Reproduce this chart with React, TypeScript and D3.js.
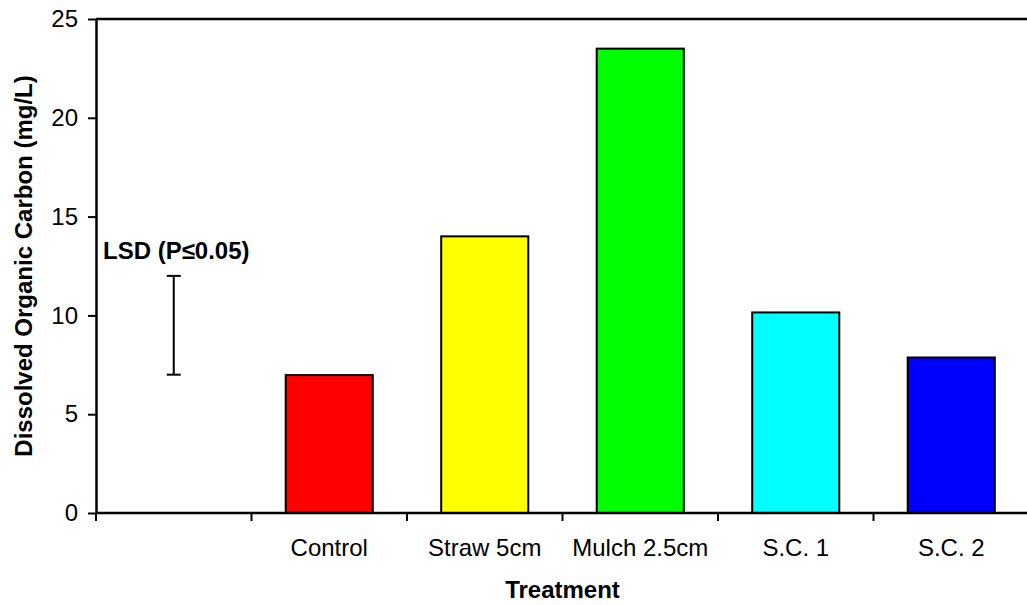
import React, { useEffect, useRef } from 'react';
import * as d3 from 'd3';

// slot 0 holds only the LSD bar
const categories = ['', 'Control', 'Straw 5cm', 'Mulch 2.5cm', 'S.C. 1', 'S.C. 2'];
const treatments = ['Control', 'Straw 5cm', 'Mulch 2.5cm', 'S.C. 1', 'S.C. 2'];
const docValues = [6.98, 14.0, 23.5, 10.15, 7.87];
const barColors = ['#ff0000', '#ffff00', '#00ff00', '#00ffff', '#0000ff'];
const yTicks = [0, 5, 10, 15, 20, 25];
const lsdRange = [7.0, 12.0];
const lsdLabel = 'LSD (P≤0.05)';

const FONT = '"Liberation Sans", Arial, sans-serif';

const App = () => {
  const chartRef = useRef<SVGSVGElement | null>(null);

  useEffect(() => {
    const width = 1027;
    const height = 605;
    const margin = { top: 19, right: -2, bottom: 92, left: 96 };

    const svg = d3.select(chartRef.current)
      .attr('width', width)
      .attr('height', height);
    svg.selectAll('*').remove();

    // escalas
    const x = d3.scaleBand()
      .domain(categories)
      .range([margin.left, width - margin.right])
      .padding(0);

    const y = d3.scaleLinear()
      .domain([0, 25])
      .range([height - margin.bottom, margin.top]);

    const x0 = margin.left;
    const x1 = width - margin.right;
    const yBase = y(0);

    // barras
    const barW = x.bandwidth() * 0.56;
    svg.append('g')
      .selectAll('rect')
      .data(treatments)
      .join('rect')
      .attr('x', d => (x(d) as number) + (x.bandwidth() - barW) / 2)
      .attr('y', (d, i) => y(docValues[i]))
      .attr('width', barW)
      .attr('height', (d, i) => yBase - y(docValues[i]))
      .attr('fill', (d, i) => barColors[i])
      .attr('stroke', '#000')
      .attr('stroke-width', 2);

    // marco superior y derecho
    svg.append('path')
      .attr('d', `M${x0},${y(25)}H${x1}V${yBase}`)
      .attr('fill', 'none')
      .attr('stroke', '#000')
      .attr('stroke-width', 2.5);

    // eje Y
    const yAxis = svg.append('g')
      .attr('transform', `translate(${x0},0)`)
      .call(d3.axisLeft(y).tickValues(yTicks).tickSize(8).tickPadding(10).tickSizeOuter(0));
    yAxis.select('.domain').attr('stroke-width', 2.5);
    yAxis.selectAll('.tick line').attr('stroke-width', 2);
    yAxis.selectAll('.tick text')
      .attr('font-family', FONT)
      .attr('font-size', 24)
      .attr('fill', '#000');

    // eje X
    svg.append('line')
      .attr('x1', x0).attr('x2', x1)
      .attr('y1', yBase).attr('y2', yBase)
      .attr('stroke', '#000')
      .attr('stroke-width', 2.5);

    const boundaries = categories.map(c => x(c) as number).concat([x1]);
    svg.append('g')
      .selectAll('line')
      .data(boundaries)
      .join('line')
      .attr('x1', d => d).attr('x2', d => d)
      .attr('y1', yBase).attr('y2', yBase + 8)
      .attr('stroke', '#000')
      .attr('stroke-width', 2);

    svg.append('g')
      .selectAll('text')
      .data(treatments)
      .join('text')
      .attr('x', d => (x(d) as number) + x.bandwidth() / 2)
      .attr('y', yBase + 43)
      .attr('text-anchor', 'middle')
      .attr('font-family', FONT)
      .attr('font-size', 24)
      .text(d => d);

    // títulos
    svg.append('text')
      .attr('x', (x0 + x1) / 2)
      .attr('y', 598)
      .attr('text-anchor', 'middle')
      .attr('font-family', FONT)
      .attr('font-size', 24)
      .attr('font-weight', 'bold')
      .text('Treatment');

    svg.append('text')
      .attr('transform', `translate(32,${(y(25) + yBase) / 2}) rotate(-90)`)
      .attr('text-anchor', 'middle')
      .attr('font-family', FONT)
      .attr('font-size', 24)
      .attr('font-weight', 'bold')
      .text('Dissolved Organic Carbon (mg/L)');

    // barra LSD
    const lx = (x('') as number) + x.bandwidth() / 2;
    const lsd = svg.append('g')
      .attr('stroke', '#000')
      .attr('stroke-width', 2);
    lsd.append('line')
      .attr('x1', lx).attr('x2', lx)
      .attr('y1', y(lsdRange[0])).attr('y2', y(lsdRange[1]));
    lsdRange.forEach(v => {
      lsd.append('line')
        .attr('x1', lx - 7).attr('x2', lx + 7)
        .attr('y1', y(v)).attr('y2', y(v));
    });

    svg.append('text')
      .attr('x', 103)
      .attr('y', 259)
      .attr('font-family', FONT)
      .attr('font-size', 24)
      .attr('font-weight', 'bold')
      .text(lsdLabel);
  }, []);

  return (
    <svg ref={chartRef} style={{ position: 'absolute', left: 0, top: 0, background: '#fff' }}></svg>
  );
};

export default App;
